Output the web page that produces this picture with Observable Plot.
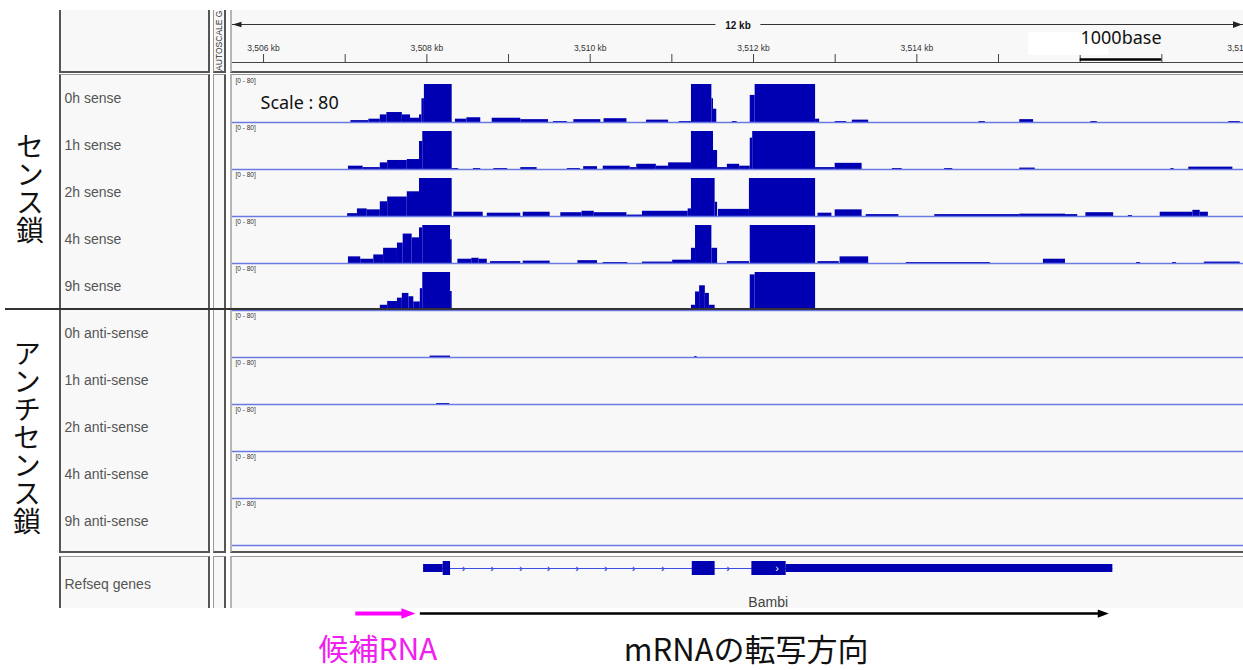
<!DOCTYPE html>
<html lang="ja">
<head>
<meta charset="utf-8">
<title>Bambi strand-specific coverage</title>
<script src="https://cdn.jsdelivr.net/npm/d3@7"></script>
<script src="https://cdn.jsdelivr.net/npm/@observablehq/plot@0.6"></script>
<style>
  html, body { margin: 0; padding: 0; background: #fff; }
  #page { position: relative; width: 1243px; height: 670px; overflow: hidden; font-family: "Liberation Sans", Arial, sans-serif; }
  .box { position: absolute; box-sizing: border-box; background: #f8f8f8; }
  .layer { position: absolute; left: 0; }
  .vlabel { position: absolute; writing-mode: vertical-rl; font-family: "Noto Sans CJK JP", sans-serif; font-size: 28px; line-height: 1; color: #111; }
</style>
</head>
<body>
<div id="page"></div>
<script>
// ================= DATA =================
const locusKb = [3505.62, 3518.0];                 // visible genomic window (kb)
const rulerTicksKb = [3506, 3507, 3508, 3509, 3510, 3511, 3512, 3513, 3514, 3515, 3516, 3517, 3518];
const rulerLabelsKb = [3506, 3508, 3510, 3512, 3514, 3518];   // 3,516 kb is hidden under the scale-bar patch
const scaleBarKb = [3516, 3517];
const scaleBarLabel = "1000base";
const labelMaskKb = [3515.37, 3516.35];             // white patch behind the scale bar label
const autoscaleHeader = "AUTOSCALE GROUP";

const dataRange = [0, 80];
const rangeLabel = "[0 - 80]";
const scaleNote = "Scale : 80";

const senseTracks = ["0h sense", "1h sense", "2h sense", "4h sense", "9h sense"];
const antisenseTracks = ["0h anti-sense", "1h anti-sense", "2h anti-sense", "4h anti-sense", "9h anti-sense"];
const strandLabels = ["センス鎖", "アンチセンス鎖"];
const geneTrackLabel = "Refseq genes";

// coverage segments: [startKb, endKb, reads] (values >= 80 are shown saturated)
const cov_0h_sense = [
  [3507.07,3507.29,4],[3507.29,3507.43,7],[3507.43,3507.51,16],[3507.51,3507.70,21],[3507.70,3507.80,16],
  [3507.80,3507.91,9],[3507.91,3507.94,16],[3507.94,3507.97,50],[3507.97,3508.31,80],[3508.35,3508.49,7],
  [3508.49,3508.66,10],[3508.80,3509.15,9],[3509.15,3509.49,6],[3509.55,3509.72,2],[3509.80,3510.13,6],
  [3510.17,3510.45,8],[3510.69,3510.96,5],[3511.09,3511.24,2],[3511.24,3511.49,80],[3511.49,3511.51,50],
  [3511.51,3511.55,28],[3511.74,3511.80,2],[3511.96,3512.02,57],[3512.02,3512.76,80],[3512.76,3512.81,7],
  [3513.00,3513.14,2],[3513.21,3513.41,5],[3514.76,3514.84,2],[3515.26,3515.43,6],[3516.13,3516.21,2],
  [3517.82,3517.96,2]
];
const cov_1h_sense = [
  [3507.04,3507.22,7],[3507.22,3507.43,4],[3507.43,3507.52,14],[3507.52,3507.76,19],[3507.76,3507.91,21],
  [3507.91,3507.95,59],[3507.95,3508.31,80],[3508.31,3508.39,2],[3508.57,3508.66,2],[3508.82,3508.99,2],
  [3509.15,3509.35,4],[3509.72,3509.88,2],[3509.92,3510.09,6],[3510.16,3510.49,7],[3510.49,3510.57,4],
  [3510.57,3510.81,11],[3510.81,3510.96,7],[3510.96,3511.24,14],[3511.24,3511.51,80],[3511.51,3511.56,40],
  [3511.56,3511.68,4],[3511.68,3511.83,11],[3511.83,3511.96,7],[3511.96,3511.99,66],[3511.99,3512.76,80],
  [3512.76,3513.00,4],[3513.00,3513.33,13],[3513.70,3513.82,2],[3514.34,3514.44,2],[3515.26,3515.45,3],
  [3517.11,3517.15,2],[3517.33,3517.87,5]
];
const cov_2h_sense = [
  [3507.03,3507.15,6],[3507.15,3507.27,16],[3507.27,3507.43,14],[3507.43,3507.52,31],[3507.52,3507.76,41],
  [3507.76,3507.91,52],[3507.91,3508.31,80],[3508.33,3508.69,9],[3508.74,3509.15,7],[3509.18,3509.51,9],
  [3509.64,3509.90,8],[3509.90,3510.05,11],[3510.05,3510.45,8],[3510.45,3510.64,3],[3510.64,3511.20,11],
  [3511.20,3511.24,16],[3511.24,3511.53,80],[3511.53,3511.56,30],[3511.57,3511.95,15],[3511.95,3512.76,80],
  [3512.79,3512.96,7],[3513.00,3513.33,14],[3513.38,3513.78,4],[3514.22,3515.26,4],[3515.26,3515.82,5],
  [3515.82,3515.97,4],[3516.07,3516.41,8],[3516.59,3516.64,2],[3516.98,3517.38,9],[3517.38,3517.47,13],
  [3517.47,3517.57,9]
];
const cov_4h_sense = [
  [3507.04,3507.19,14],[3507.19,3507.35,9],[3507.35,3507.47,18],[3507.47,3507.64,32],[3507.64,3507.71,43],
  [3507.71,3507.82,62],[3507.82,3507.91,54],[3507.91,3507.95,75],[3507.95,3508.29,80],[3508.29,3508.31,50],
  [3508.38,3508.55,9],[3508.55,3508.64,11],[3508.64,3508.74,9],[3508.78,3509.15,4],[3509.18,3509.51,5],
  [3509.85,3510.09,6],[3510.16,3510.46,2],[3510.64,3511.01,3],[3511.01,3511.24,7],[3511.24,3511.29,32],
  [3511.29,3511.49,80],[3511.49,3511.56,32],[3511.68,3511.95,4],[3511.96,3512.76,80],[3512.79,3513.05,4],
  [3513.06,3513.41,14],[3513.87,3514.90,2],[3515.55,3515.82,9],[3516.69,3516.74,2],[3517.13,3517.18,2],
  [3517.52,3517.96,3]
];
const cov_9h_sense = [
  [3507.19,3507.43,2],[3507.43,3507.52,11],[3507.52,3507.64,19],[3507.64,3507.70,26],[3507.70,3507.78,36],
  [3507.78,3507.84,29],[3507.84,3507.92,18],[3507.92,3507.95,46],[3507.95,3508.29,80],[3508.29,3508.31,40],
  [3511.24,3511.29,11],[3511.29,3511.34,39],[3511.34,3511.41,52],[3511.41,3511.46,36],[3511.46,3511.53,11],
  [3511.96,3512.02,75],[3512.02,3512.76,80],[3513.11,3513.21,4]
];
const cov_0h_antisense = [[3508.04,3508.29,3],[3511.28,3511.31,2]];
const cov_1h_antisense = [[3508.12,3508.28,2]];
const cov_2h_antisense = [];
const cov_4h_antisense = [];
const cov_9h_antisense = [];

// Refseq gene model (Bambi)
const geneName = "Bambi";
const geneUTRKb = [[3507.96, 3508.20], [3512.40, 3516.40]];
const geneExonsKb = [[3508.20, 3508.29], [3511.25, 3511.53], [3511.98, 3512.40]];
const intronChevronsKb = [3508.45, 3508.80, 3509.15, 3509.49, 3509.84, 3510.19, 3510.53, 3510.89, 3511.69];
const exonChevronsKb = [3512.29];

// annotation arrows + captions
const candidateArrowKb = [3507.13, 3507.86];
const mrnaArrowKb = [3507.92, 3516.35];
const candidateLabel = "候補RNA";
const candidateLabelKb = 3507.40;
const mrnaLabel = "mRNAの転写方向";
const mrnaLabelKb = 3511.91;

// ================= BUILD =================
const page = document.getElementById("page");
const W = 1243, ML = 232;
const COV = "#0000b2", BASE = "#6a7ae2", GENE = "#0000b2", INTRON = "#3a4ee0", MAGENTA = "#ff00ff";
const kbPerPx = (locusKb[1] - locusKb[0]) / (W - ML);
const mid = (locusKb[0] + locusKb[1]) / 2;
const baseStyle = {background: "transparent", overflow: "visible", fontFamily: "'Liberation Sans', Arial, sans-serif"};

function box(left, top, width, height, css) {
  const d = document.createElement("div");
  d.className = "box";
  Object.assign(d.style, {left: left + "px", top: top + "px", width: width + "px", height: height + "px"}, css || {});
  page.appendChild(d);
  return d;
}
function layer(node, top) {
  const d = document.createElement("div");
  d.className = "layer";
  d.style.top = top + "px";
  d.appendChild(node);
  page.appendChild(d);
}

// panel frame (IGV look)
const COLS = [
  {left: 59, width: 151, css: {borderLeft: "2px solid #555", borderRight: "2px solid #555"}},
  {left: 213, width: 13, css: {borderLeft: "1px solid #999", borderRight: "2px solid #555"}},
  {left: 230, width: 1013, css: {borderLeft: "2px solid #b5b5b5"}}
];
const ROWS = [
  {top: 10, height: 63, css: {borderBottom: "2px solid #555"}},
  {top: 74, height: 479, css: {borderTop: "1px solid #999", borderBottom: "2px solid #555"}},
  {top: 556, height: 52, css: {borderTop: "1px solid #999"}}
];
for (const r of ROWS) for (const c of COLS) box(c.left, r.top, c.width, r.height, {...c.css, ...r.css});

// attribute header (rotated)
{
  const clip = document.createElement("div");
  Object.assign(clip.style, {position: "absolute", left: "214px", top: "10px", width: "11px", height: "61px", overflow: "hidden"});
  const s = document.createElement("div");
  s.textContent = autoscaleHeader;
  Object.assign(s.style, {position: "absolute", left: "0px", bottom: "0px", writingMode: "vertical-rl", transform: "rotate(180deg)",
    fontSize: "8.5px", lineHeight: "11px", color: "#333", whiteSpace: "nowrap"});
  clip.appendChild(s);
  page.appendChild(clip);
}

// ---- ruler ----
const rulerRow = {span: 14, base: 52, bar: 49, barText: 28, maskTop: 22, maskBottom: 45};
const triRight = {draw(ctx, size) { const r = Math.sqrt(size / Math.PI); ctx.moveTo(r, 0); ctx.lineTo(-r, -0.75 * r); ctx.lineTo(-r, 0.75 * r); ctx.closePath(); }};
const triLeft = {draw(ctx, size) { const r = Math.sqrt(size / Math.PI); ctx.moveTo(-r, 0); ctx.lineTo(r, -0.6 * r); ctx.lineTo(r, 0.6 * r); ctx.closePath(); }};
const spanLabel = `${Math.floor(locusKb[1] - locusKb[0])} kb`;

const ruler = Plot.plot({
  width: W, height: 63, marginLeft: ML, marginRight: 0, marginTop: 52, marginBottom: 10,
  style: baseStyle,
  x: {domain: locusKb},
  y: {domain: [0, 63], range: [0, 63], axis: null},
  marks: [
    Plot.axisX({anchor: "top", ticks: rulerTicksKb, tickSize: 9, tickPadding: 3, label: null,
      tickFormat: d => rulerLabelsKb.includes(d) ? d3.format(",")(d) + " kb" : "",
      fontSize: 8.5, stroke: "#444", fill: "#333"}),
    Plot.ruleY([rulerRow.base], {x1: locusKb[0], x2: locusKb[1], stroke: "#444", strokeWidth: 1.2}),
    Plot.ruleY([rulerRow.span], {x1: locusKb[0], x2: mid - 0.27, stroke: "#333"}),
    Plot.ruleY([rulerRow.span], {x1: mid + 0.28, x2: locusKb[1], stroke: "#333"}),
    Plot.dot([locusKb[0]], {x: d => d, y: rulerRow.span, symbol: triLeft, r: 4.5, dx: 4.5, fill: "#222", stroke: null}),
    Plot.dot([locusKb[1]], {x: d => d, y: rulerRow.span, symbol: triRight, r: 4.5, dx: -6, fill: "#222", stroke: null}),
    Plot.text([spanLabel], {x: mid, y: rulerRow.span + 1, fontSize: 10, fontWeight: "bold", fill: "#111"}),
    Plot.rect([labelMaskKb], {x1: d => d[0], x2: d => d[1], y1: rulerRow.maskTop, y2: rulerRow.maskBottom, fill: "white"}),
    Plot.ruleY([rulerRow.bar], {x1: scaleBarKb[0], x2: scaleBarKb[1], stroke: "#000", strokeWidth: 2.5}),
    Plot.text([scaleBarLabel], {x: (scaleBarKb[0] + scaleBarKb[1]) / 2, y: rulerRow.barText, fontSize: 18,
      fontFamily: "'Noto Sans', sans-serif", fill: "#111"})
  ]
});
layer(ruler, 10);

// ---- coverage tracks (one facet row per track) ----
const allTracks = [...senseTracks, ...antisenseTracks];
const covByTrack = {
  "0h sense": cov_0h_sense, "1h sense": cov_1h_sense, "2h sense": cov_2h_sense, "4h sense": cov_4h_sense, "9h sense": cov_9h_sense,
  "0h anti-sense": cov_0h_antisense, "1h anti-sense": cov_1h_antisense, "2h anti-sense": cov_2h_antisense,
  "4h anti-sense": cov_4h_antisense, "9h anti-sense": cov_9h_antisense
};
const coverage = Object.entries(covByTrack).flatMap(([track, segs]) => segs.map(([x1, x2, v]) => ({track, x1, x2, v})));

const tracks = Plot.plot({
  width: W, height: 470, marginLeft: ML, marginRight: 0, marginTop: 0, marginBottom: 0,
  style: baseStyle,
  x: {domain: locusKb, axis: null},
  y: {domain: dataRange, insetTop: 9, clamp: true, axis: null},
  fy: {domain: allTracks, padding: 0, axis: null, label: null},
  marks: [
    Plot.rect(coverage, {x1: "x1", x2: "x2", y1: () => 0, y2: "v", fy: "track", fill: COV}),
    Plot.ruleY(allTracks, {y: () => 0, fy: d => d, stroke: BASE, strokeWidth: 1.6}),
    Plot.text(allTracks, {fy: d => d, text: () => rangeLabel, frameAnchor: "top-left", dx: 3, dy: 3, lineAnchor: "top", fontSize: 6.5, fill: "#333"}),
    Plot.text(allTracks, {fy: d => d, text: d => d, frameAnchor: "left", dx: 64 - ML, textAnchor: "start", fontSize: 14, fill: "#555"}),
    Plot.text([scaleNote], {fy: () => senseTracks[0], frameAnchor: "top-left", dx: 28, dy: 28, textAnchor: "start", lineAnchor: "middle",
      fontSize: 18, fontFamily: "'Noto Sans', sans-serif", fill: "#111"})
  ]
});
layer(tracks, 75);

// ---- gene track + annotations ----
const geneRow = {center: 12, exonHalf: 7, utrHalf: 4, name: 46, arrow: 57, cand: 94, mrna: 95};
const geneStart = d3.min(geneUTRKb.concat(geneExonsKb), d => d[0]);
const geneEnd = d3.max(geneUTRKb.concat(geneExonsKb), d => d[1]);

const genes = Plot.plot({
  width: W, height: 114, marginLeft: ML, marginRight: 0, marginTop: 0, marginBottom: 0,
  style: baseStyle,
  x: {domain: locusKb, axis: null},
  y: {domain: [0, 114], range: [0, 114], axis: null},
  marks: [
    Plot.ruleY([geneRow.center], {x1: geneStart, x2: geneEnd, stroke: INTRON, strokeWidth: 1}),
    Plot.rect(geneUTRKb, {x1: d => d[0], x2: d => d[1], y1: geneRow.center - geneRow.utrHalf, y2: geneRow.center + geneRow.utrHalf, fill: GENE}),
    Plot.rect(geneExonsKb, {x1: d => d[0], x2: d => d[1], y1: geneRow.center - geneRow.exonHalf, y2: geneRow.center + geneRow.exonHalf, fill: GENE}),
    Plot.text(intronChevronsKb, {x: d => d, y: geneRow.center, text: () => "›", fontSize: 11, fontWeight: "bold", fill: INTRON}),
    Plot.text(exonChevronsKb, {x: d => d, y: geneRow.center, text: () => "›", fontSize: 11, fill: "white"}),
    Plot.text([geneName], {x: (geneStart + geneEnd) / 2, y: geneRow.name, fontSize: 14, fill: "#444"}),
    Plot.text([geneTrackLabel], {frameAnchor: "top-left", dx: 64 - ML, dy: 28, textAnchor: "start", lineAnchor: "middle", fontSize: 14, fill: "#555"}),
    // transcription direction of the mRNA
    Plot.ruleY([geneRow.arrow], {x1: mrnaArrowKb[0], x2: mrnaArrowKb[1] - 6 * kbPerPx, stroke: "#000", strokeWidth: 2.6}),
    Plot.dot([mrnaArrowKb[1]], {x: d => d, y: geneRow.arrow, symbol: triRight, r: 5.5, dx: -5.5, fill: "#000", stroke: null}),
    // candidate RNA
    Plot.ruleY([geneRow.arrow], {x1: candidateArrowKb[0], x2: candidateArrowKb[1] - 8 * kbPerPx, stroke: MAGENTA, strokeWidth: 4.2}),
    Plot.dot([candidateArrowKb[1]], {x: d => d, y: geneRow.arrow, symbol: triRight, r: 7, dx: -7, fill: MAGENTA, stroke: null}),
    Plot.text([candidateLabel], {x: candidateLabelKb, y: geneRow.cand, fontSize: 30, fontFamily: "'Noto Sans CJK JP', sans-serif", fill: "#f020f0"}),
    Plot.text([mrnaLabel], {x: mrnaLabelKb, y: geneRow.mrna, fontSize: 31, fontFamily: "'Noto Sans CJK JP', sans-serif", fill: "#111"})
  ]
});
layer(genes, 556);

// sense / antisense separator
box(5, 308, 1238, 2, {background: "#333"});

// strand group labels (vertical)
const strandPos = [{left: 16, top: 132}, {left: 13, top: 339}];
strandLabels.forEach((t, i) => {
  const d = document.createElement("div");
  d.className = "vlabel";
  d.textContent = t;
  d.style.left = strandPos[i].left + "px";
  d.style.top = strandPos[i].top + "px";
  page.appendChild(d);
});
</script>
</body>
</html>
